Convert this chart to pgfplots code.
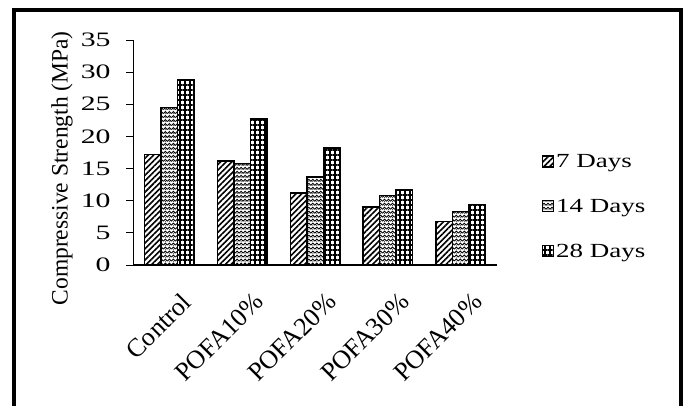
\documentclass[border=0pt]{standalone}
\usepackage{fontspec}
\setmainfont{Liberation Serif}[FakeStretch=1.35]
\newfontfamily\labelfont{Liberation Serif}
\newfontfamily\tickfont{Liberation Serif}[FakeStretch=1.45]
\usepackage{pgfplots}
\pgfplotsset{compat=1.18}
\usetikzlibrary{patterns,patterns.meta}

\tikzdeclarepattern{
  name=zigzag,
  type=uncolored,
  bottom left={(-1pt,-1pt)},
  top right={(5pt,5pt)},
  tile size={(4pt,4pt)},
  code={
    \draw[line width=0.9pt] (0pt,0.5pt)--(2pt,2.5pt)--(4pt,0.5pt);
    \fill (2pt,0.3pt) circle (0.45pt);
  }
}

\begin{document}
\begin{tikzpicture}[x=1bp,y=1bp]
\useasboundingbox (0,0) rectangle (688,405);
\draw[line width=4bp] (14,394.5) rectangle (681,-30);
\begin{axis}[
  at={(133bp,140bp)}, anchor=south west,
  scale only axis, width=364bp, height=225bp,
  xmin=-0.5, xmax=4.5, ymin=0, ymax=35,
  axis x line*=bottom, axis y line*=left,
  x axis line style={-, line width=1.8bp},
  y axis line style={-, line width=0.8bp},
  ytick={0,5,...,35},
  xtick={0,1,2,3,4},
  xticklabels={Control,POFA10\%,POFA20\%,POFA30\%,POFA40\%},
  x tick style={draw=none},
  y tick style={line width=0.8bp, black},
  tick align=outside, major tick length=7bp,
  /pgf/number format/assume math mode=true,
  yticklabel style={font=\tickfont\fontsize{20.5bp}{24bp}\selectfont, xshift=-12bp},
  xticklabel style={font=\labelfont\fontsize{26bp}{30bp}\selectfont, rotate=45, anchor=north east, inner sep=2bp, xshift=-4bp, yshift=-19bp},
  ylabel={Compressive Strength (MPa)},
  ylabel style={font=\labelfont\fontsize{23.5bp}{27bp}\selectfont, at={(axis description cs:-0.195,0.43)}, anchor=center},
  ybar=0bp, bar width=16.5bp,
  legend style={at={(axis description cs:1.122,0.50)}, anchor=north west, draw=none, fill=none,
    font=\fontsize{20bp}{24bp}\selectfont, row sep=26bp, inner sep=0pt},
  legend cell align=left,
  legend image code/.code={\draw[#1, line width=1.5bp] (0bp,-5bp) rectangle (11bp,6bp);},
]
\addplot[draw=black, line width=1.5bp, pattern={Lines[angle=45,distance=4bp,line width=1.6bp]}]
  coordinates {(0,17.2) (1,16.2) (2,11.2) (3,9.0) (4,6.8)};
\addplot[draw=black, line width=1.5bp, pattern=zigzag]
  coordinates {(0,24.5) (1,15.8) (2,13.7) (3,10.8) (4,8.3)};
\addplot[draw=black, line width=1.5bp, pattern={Hatch[angle=0,distance=5bp,line width=1.4bp]}]
  coordinates {(0,28.8) (1,22.7) (2,18.2) (3,11.7) (4,9.4)};
\legend{7 Days,14 Days,28 Days}
\end{axis}
\end{tikzpicture}
\end{document}
